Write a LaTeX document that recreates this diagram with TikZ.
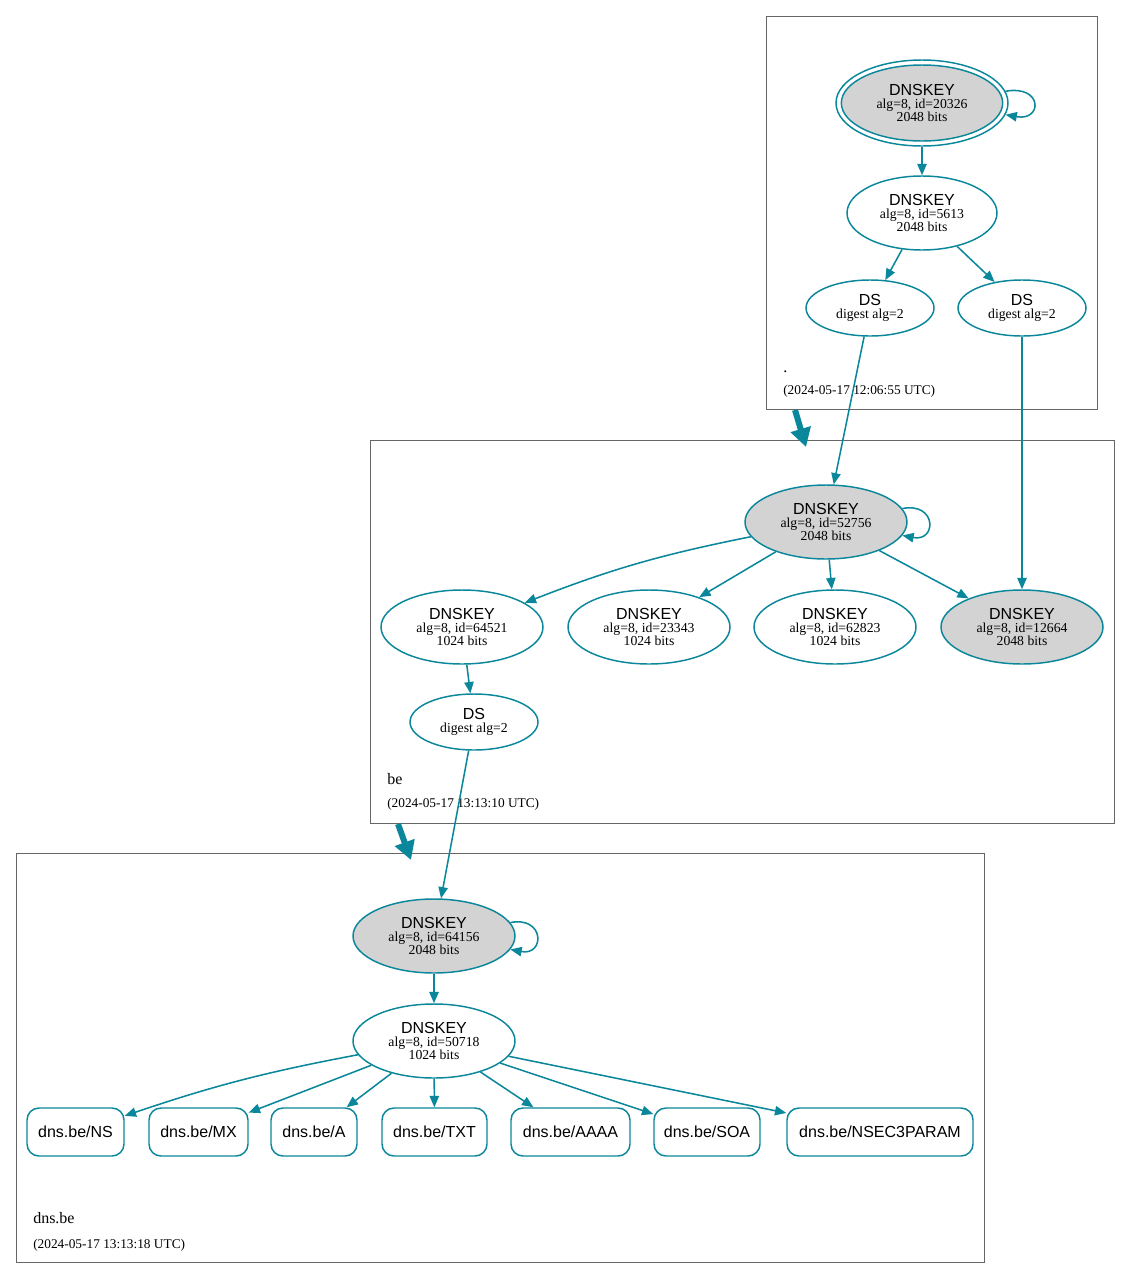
\documentclass[tikz,border=0pt]{standalone}
\usepackage{fontspec}
\setmainfont{Liberation Serif}
\setsansfont{Liberation Sans}
\usetikzlibrary{shapes.geometric,arrows.meta}
\definecolor{sec}{HTML}{0A879A}
\definecolor{keyfill}{HTML}{D3D3D3}
\definecolor{clus}{HTML}{666666}
\newcommand{\keytext}[2]{{\sffamily\fontsize{12}{9.75}\selectfont DNSKEY}\\alg=8, id=#1\\#2 bits}
\newcommand{\dstext}{{\sffamily\fontsize{12}{9.75}\selectfont DS}\\digest alg=2}
\begin{document}
\begin{tikzpicture}[x=0.75pt,y=-0.75pt,
  keynode/.style={ellipse, draw=sec, line width=1.1pt, inner sep=0pt, align=center,
    font=\fontsize{10.3}{9.75}\selectfont, minimum width=121.5pt, minimum height=55.5pt},
  dsnode/.style={ellipse, draw=sec, line width=1.1pt, inner sep=0pt, align=center,
    font=\fontsize{10.3}{9.75}\selectfont, minimum width=96pt, minimum height=42pt},
  rrnode/.style={rectangle, rounded corners=9pt, draw=sec, line width=1.1pt,
    minimum height=36pt, inner sep=0pt, font=\sffamily\fontsize{12}{12}\selectfont},
  keyfilled/.style={fill=keyfill},
  edge/.style={draw=sec, line width=1.15pt, -{Triangle[length=8.5pt,width=7pt]}},
  deleg/.style={draw=sec, line width=4.5pt, -{Triangle[length=14pt,width=15pt]}},
  zonebox/.style={draw=clus, line width=0.6pt},
  zonename/.style={anchor=base west, inner sep=0pt, font=\fontsize{12}{12}\selectfont},
  zonedate/.style={anchor=base west, inner sep=0pt, font=\fontsize{10}{10}\selectfont}]
\useasboundingbox (0,0) rectangle (1131,1278);

% ---------- clusters ----------
\draw[zonebox] (766,16) rectangle (1097,409);
\draw[zonebox] (370,440) rectangle (1114,823);
\draw[zonebox] (16,853) rectangle (984,1262);

\node[zonename] (lroot) at (783,372) {.};
\node[zonedate] (droot) at (783,394) {(2024-05-17 12:06:55 UTC)};
\node[zonename] (lbe) at (387,784) {be};
\node[zonedate] (dbe) at (387,807) {(2024-05-17 13:13:10 UTC)};
\node[zonename] (ldns) at (33,1223) {dns.be};
\node[zonedate] (ddns) at (33,1248) {(2024-05-17 13:13:18 UTC)};

% ---------- root zone ----------
\path[draw=sec, line width=1.1pt, fill=keyfill] (922,103) ellipse [x radius=60.5pt, y radius=28.5pt];
\node[keynode, minimum width=129pt, minimum height=64.5pt] (k20326) at (922,103) {\keytext{20326}{2048}};
\node[keynode, minimum width=112.5pt] (k5613) at (922,213) {\keytext{5613}{2048}};
\node[dsnode] (ds1) at (870,308) {\dstext};
\node[dsnode] (ds2) at (1022,308) {\dstext};

% ---------- be zone ----------
\node[keynode, keyfilled] (k52756) at (826,522) {\keytext{52756}{2048}};
\node[keynode] (k64521) at (462,627) {\keytext{64521}{1024}};
\node[keynode] (k23343) at (649,627) {\keytext{23343}{1024}};
\node[keynode] (k62823) at (835,627) {\keytext{62823}{1024}};
\node[keynode, keyfilled] (k12664) at (1022,627) {\keytext{12664}{2048}};
\node[dsnode] (dsbe) at (474,722) {\dstext};

% ---------- dns.be zone ----------
\node[keynode, keyfilled] (k64156) at (434,936) {\keytext{64156}{2048}};
\node[keynode] (k50718) at (434,1041) {\keytext{50718}{1024}};

\node[rrnode, minimum width=72.75pt] (rns) at (75.5,1132) {dns.be/NS};
\node[rrnode, minimum width=74.25pt] (rmx) at (198.5,1132) {dns.be/MX};
\node[rrnode, minimum width=64.5pt] (ra) at (314,1132) {dns.be/A};
\node[rrnode, minimum width=78.75pt] (rtxt) at (434.5,1132) {dns.be/TXT};
\node[rrnode, minimum width=89.25pt] (raaaa) at (570.5,1132) {dns.be/AAAA};
\node[rrnode, minimum width=79.5pt] (rsoa) at (707,1132) {dns.be/SOA};
\node[rrnode, minimum width=139.5pt] (rnsec) at (880,1132) {dns.be/NSEC3PARAM};

% ---------- edges ----------
\draw[edge] (k20326.8) .. controls +(28pt,5pt) and +(28pt,-5pt) .. (k20326.-8);
\draw[edge] (k20326) -- (k5613);
\draw[edge] (k5613) -- (ds1);
\draw[edge] (k5613) -- (ds2);
\draw[edge] (ds1) -- (k52756);
\draw[edge] (ds2) -- (k12664);

\draw[edge] (k52756.10) .. controls +(26pt,5pt) and +(26pt,-5pt) .. (k52756.-10);
\draw[edge] (k52756) to[bend right=5] (k64521);
\draw[edge] (k52756) -- (k23343);
\draw[edge] (k52756) -- (k62823);
\draw[edge] (k52756) -- (k12664);
\draw[edge] (k64521) -- (dsbe);
\draw[edge] (dsbe) -- (k64156);

\draw[edge] (k64156.10) .. controls +(26pt,5pt) and +(26pt,-5pt) .. (k64156.-10);
\draw[edge] (k64156) -- (k50718);
\draw[edge] (k50718) to[bend right=4] (rns);
\draw[edge] (k50718) -- (rmx);
\draw[edge] (k50718) -- (ra);
\draw[edge] (k50718) -- (rtxt);
\draw[edge] (k50718) -- (raaaa);
\draw[edge] (k50718) -- (rsoa);
\draw[edge] (k50718) -- (rnsec);

% ---------- delegation arrows ----------
\coordinate (d1s) at (795,410);
\coordinate (d1e) at (806,447);
\coordinate (d2s) at (398,824);
\coordinate (d2e) at (411,860);
\draw[deleg] (d1s) -- (d1e);
\draw[deleg] (d2s) -- (d2e);
\end{tikzpicture}
\end{document}
